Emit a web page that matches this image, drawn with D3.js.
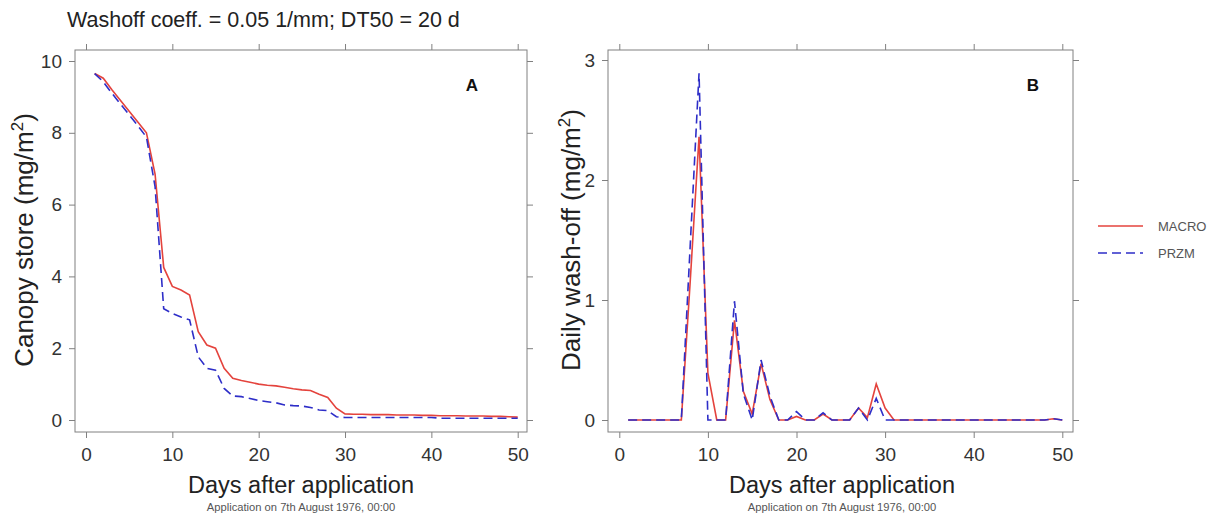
<!DOCTYPE html>
<html><head><meta charset="utf-8">
<script src="https://cdn.jsdelivr.net/npm/d3@7"></script>
<style>
body{margin:0;background:#fff;}
text{font-family:"Liberation Sans",Arial,sans-serif;}
</style></head>
<body><svg id="c" width="1218" height="515"></svg>
<script>
const days = d3.range(1, 51);
const macroStore = [9.65,9.52,9.2,8.9,8.6,8.3,8.0,6.85,4.25,3.72,3.62,3.48,2.46,2.09,2.0,1.44,1.16,1.1,1.05,1.0,0.97,0.95,0.91,0.87,0.84,0.82,0.72,0.63,0.33,0.17,0.16,0.16,0.15,0.15,0.15,0.14,0.14,0.14,0.13,0.13,0.12,0.12,0.12,0.11,0.11,0.11,0.1,0.1,0.09,0.08];
const przmStore = [9.65,9.42,9.1,8.8,8.5,8.2,7.88,6.5,3.1,2.97,2.87,2.79,1.76,1.44,1.39,0.88,0.67,0.65,0.6,0.54,0.51,0.48,0.42,0.4,0.39,0.35,0.28,0.26,0.09,0.07,0.07,0.07,0.07,0.07,0.07,0.07,0.07,0.07,0.07,0.07,0.05,0.05,0.05,0.05,0.05,0.05,0.05,0.05,0.05,0.05];
const macroWash = [0,0,0,0,0,0,0,1.15,2.36,0.39,0,0,0.83,0.24,0.05,0.47,0.17,0,0,0.03,0,0,0.05,0,0,0,0.1,0.02,0.3,0.1,0,0,0,0,0,0,0,0,0,0,0,0,0,0,0,0,0,0,0.01,0];
const przmWash = [0,0,0,0,0,0,0,1.45,2.89,0,0,0,0.99,0.22,0,0.5,0.2,0,0,0.07,0,0,0.06,0,0,0,0.1,0,0.18,0,0,0,0,0,0,0,0,0,0,0,0,0,0,0,0,0,0,0,0.01,0];
const xTicks = [0,10,20,30,40,50];
const yTicksA = [0,2,4,6,8,10];
const yTicksB = [0,1,2,3];
const seriesNames = ["MACRO","PRZM"];
const colors = {MACRO:"#e4433d", PRZM:"#2e2ec8"};

const svg = d3.select("#c");
const axisColor = "#808080";

svg.append("text").attr("x",67).attr("y",27).attr("font-size",21.5).attr("fill","#222")
  .text("Washoff coeff. = 0.05 1/mm; DT50 = 20 d");

function panel(o){
  const g = svg.append("g");
  const x = d3.scaleLinear().domain([0,50]).range([o.x0,o.x50]);
  const y = d3.scaleLinear().domain([0,o.ymax]).range([420,o.ytop]);
  g.append("rect").attr("x",o.bl).attr("y",50).attr("width",o.br-o.bl).attr("height",432-50)
    .attr("fill","none").attr("stroke",axisColor).attr("stroke-width",1);
  const fmt = d3.format("d");
  const bottom = d3.axisBottom(x).tickValues(xTicks).tickSize(6).tickPadding(10).tickFormat(fmt);
  const ab = g.append("g").attr("transform",`translate(0,432)`).call(bottom);
  const top = d3.axisTop(x).tickValues(xTicks).tickSize(6).tickFormat("");
  const at = g.append("g").attr("transform",`translate(0,50)`).call(top);
  const left = d3.axisLeft(y).tickValues(o.yt).tickSize(6).tickPadding(7).tickFormat(fmt);
  const al = g.append("g").attr("transform",`translate(${o.bl},0)`).call(left);
  const right = d3.axisRight(y).tickValues(o.yt).tickSize(6).tickFormat("");
  const ar = g.append("g").attr("transform",`translate(${o.br},0)`).call(right);
  [ab,at,al,ar].forEach(a=>{
    a.select(".domain").remove();
    a.selectAll(".tick line").attr("stroke",axisColor);
    a.selectAll(".tick text").attr("font-size",19).attr("fill","#333")
      .attr("font-family","Liberation Sans, Arial, sans-serif");
  });
  const line = d3.line().x((d,i)=>x(days[i])).y(d=>y(d));
  g.append("path").datum(o.m).attr("d",line).attr("fill","none")
    .attr("stroke",colors.MACRO).attr("stroke-width",1.6);
  g.append("path").datum(o.p).attr("d",line).attr("fill","none")
    .attr("stroke",colors.PRZM).attr("stroke-width",1.6).attr("stroke-dasharray","9,5");
  g.append("text").attr("x",o.lx).attr("y",91).attr("font-size",17).attr("font-weight","bold")
    .attr("text-anchor","middle").attr("fill","#111").text(o.letter);
  const yl = g.append("text").attr("transform",`translate(${o.ylx},240) rotate(-90)`)
    .attr("text-anchor","middle").attr("font-size",26).attr("fill","#222");
  yl.append("tspan").text(o.ylabel+" (mg/m");
  yl.append("tspan").attr("font-size",17).attr("dy",-10).text("2");
  yl.append("tspan").attr("dy",10).text(")");
  const cx = o.xlc;
  g.append("text").attr("x",cx).attr("y",493).attr("text-anchor","middle").attr("font-size",23.5)
    .attr("fill","#222").text("Days after application");
  g.append("text").attr("x",cx).attr("y",511).attr("text-anchor","middle").attr("font-size",11.2)
    .attr("fill","#555").text("Application on 7th August 1976, 00:00");
}

panel({x0:86,x50:517.7,bl:75,br:527,ymax:10,ytop:61,yt:yTicksA,m:macroStore,p:przmStore,
  letter:"A",lx:472,ylx:33,ylabel:"Canopy store",xlc:301});
panel({x0:619.3,x50:1062.3,bl:608,br:1073,ymax:3,ytop:60,yt:yTicksB,m:macroWash,p:przmWash,
  letter:"B",lx:1033,ylx:580,ylabel:"Daily wash-off",xlc:842});

const lg = svg.append("g");
seriesNames.forEach((s,i)=>{
  const yy = 226 + i*27;
  lg.append("line").attr("x1",1098).attr("x2",1143).attr("y1",yy).attr("y2",yy)
    .attr("stroke",colors[s]).attr("stroke-width",1.6)
    .attr("stroke-dasharray", s==="PRZM" ? "9,5" : null);
  lg.append("text").attr("x",1158).attr("y",yy+5).attr("font-size",13).attr("fill","#555").text(s);
});
</script></body></html>
